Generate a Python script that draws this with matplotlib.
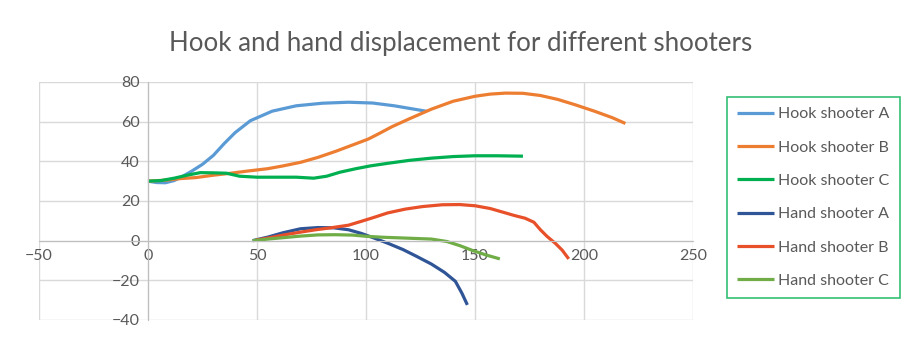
import numpy as np
import matplotlib.pyplot as plt

# series (x, y)
hook_a_x = [0, 4, 8, 12, 16, 20, 25, 30, 35, 40, 47, 57, 68, 80, 92, 103, 113, 121, 128]
hook_a_y = [30, 29.3, 29.2, 30.3, 32.5, 35, 38.5, 43, 49, 54.5, 60.5, 65.3, 68, 69.3, 69.8, 69.4, 68, 66.5, 65.2]

hook_b_x = [0, 8, 15, 22, 30, 38, 45, 55, 62, 70, 78, 86, 94, 101, 106, 112, 120, 130, 140, 150, 157, 164, 172, 180, 188, 196, 205, 213, 219]
hook_b_y = [30, 30.5, 31.3, 31.8, 33, 34, 35, 36.3, 37.7, 39.5, 42, 45, 48.3, 51.2, 54, 57.5, 61.5, 66.3, 70.3, 72.8, 73.9, 74.4, 74.3, 73.2, 71.2, 68.5, 65.2, 62, 59.1]

hook_c_x = [0, 6, 12, 18, 24, 30, 36, 42, 50, 60, 68, 76, 82, 88, 95, 102, 110, 120, 130, 140, 150, 160, 172]
hook_c_y = [30, 30.3, 31.5, 33, 34.3, 34.2, 34, 32.5, 32, 32, 32, 31.5, 32.5, 34.5, 36.2, 37.7, 39, 40.5, 41.6, 42.4, 42.8, 42.8, 42.6]

hand_a_x = [48, 55, 62, 70, 78, 85, 92, 98, 104, 110, 117, 123, 130, 136, 141, 144, 146.5]
hand_a_y = [0, 1.8, 4, 6, 6.6, 6.5, 5.5, 3.6, 1.2, -1.3, -4.5, -7.8, -11.8, -16, -20.5, -26.5, -32.4]

hand_b_x = [49.6, 56, 63, 70, 77, 84, 92, 98, 103, 110, 118, 126, 135, 143, 150, 157, 163, 168, 173, 177, 180, 183, 187, 190, 193]
hand_b_y = [0.3, 1.5, 3, 4.3, 5.5, 6.5, 7.8, 9.8, 11.5, 14, 15.9, 17.2, 18.1, 18.2, 17.6, 16.2, 14.3, 12.7, 11.3, 9.3, 5.5, 2.2, -1.5, -4.8, -9.2]

hand_c_x = [48, 55, 62, 70, 78, 86, 94, 100, 108, 118, 130, 137, 143, 149, 155, 161.4]
hand_c_y = [0, 0.8, 1.5, 2.3, 2.9, 3, 2.8, 2.2, 1.7, 1.3, 0.8, -0.4, -2.5, -5, -7.2, -9.2]

names = ['Hook shooter A', 'Hook shooter B', 'Hook shooter C',
         'Hand shooter A', 'Hand shooter B', 'Hand shooter C']
colors = ['#5B9BD5', '#ED7D31', '#00B050', '#2F5597', '#E8502A', '#70AD47']
series = [(hook_a_x, hook_a_y), (hook_b_x, hook_b_y), (hook_c_x, hook_c_y),
          (hand_a_x, hand_a_y), (hand_b_x, hand_b_y), (hand_c_x, hand_c_y)]

x_ticks = [-50, 0, 50, 100, 150, 200, 250]
y_ticks = [-40, -20, 0, 20, 40, 60, 80]

plt.rcParams['font.family'] = ['Lato', 'DejaVu Sans']

fig = plt.figure(figsize=(9.04, 3.38), dpi=100)
ax = fig.add_axes([0.0431, 0.0533, 0.7235, 0.7041])

for (xs, ys), name, c in zip(series, names, colors):
    ax.plot(xs, ys, color=c, lw=2.3, label=name, solid_capstyle='butt')

ax.set_xlim(-50, 250)
ax.set_ylim(-40, 80)
ax.set_xticks(x_ticks)
ax.set_yticks(y_ticks)
ax.grid(True, color='#D9D9D9', lw=1)
ax.set_axisbelow(True)

for s in ['top', 'right']:
    ax.spines[s].set_visible(False)
ax.spines['left'].set_position(('data', 0))
ax.spines['bottom'].set_position(('data', 0))
ax.spines['left'].set_color('#BFBFBF')
ax.spines['bottom'].set_color('#BFBFBF')
ax.tick_params(length=0, labelsize=11.5, labelcolor='#595959', pad=6)

fig.text(0.509, 0.872, 'Hook and hand displacement for different shooters',
         ha='center', va='center', fontsize=18.6, color='#595959')

leg = fig.legend(loc='upper left', bbox_to_anchor=(0.804, 0.713), fontsize=11.5,
                 frameon=True, fancybox=False, handlelength=2.3, handletextpad=0.3,
                 labelspacing=1.2, borderpad=0.63, borderaxespad=0,
                 labelcolor='#595959')
leg.get_frame().set_edgecolor('#00B050')
leg.get_frame().set_linewidth(1.2)

fig.savefig('out.png', dpi=100)
